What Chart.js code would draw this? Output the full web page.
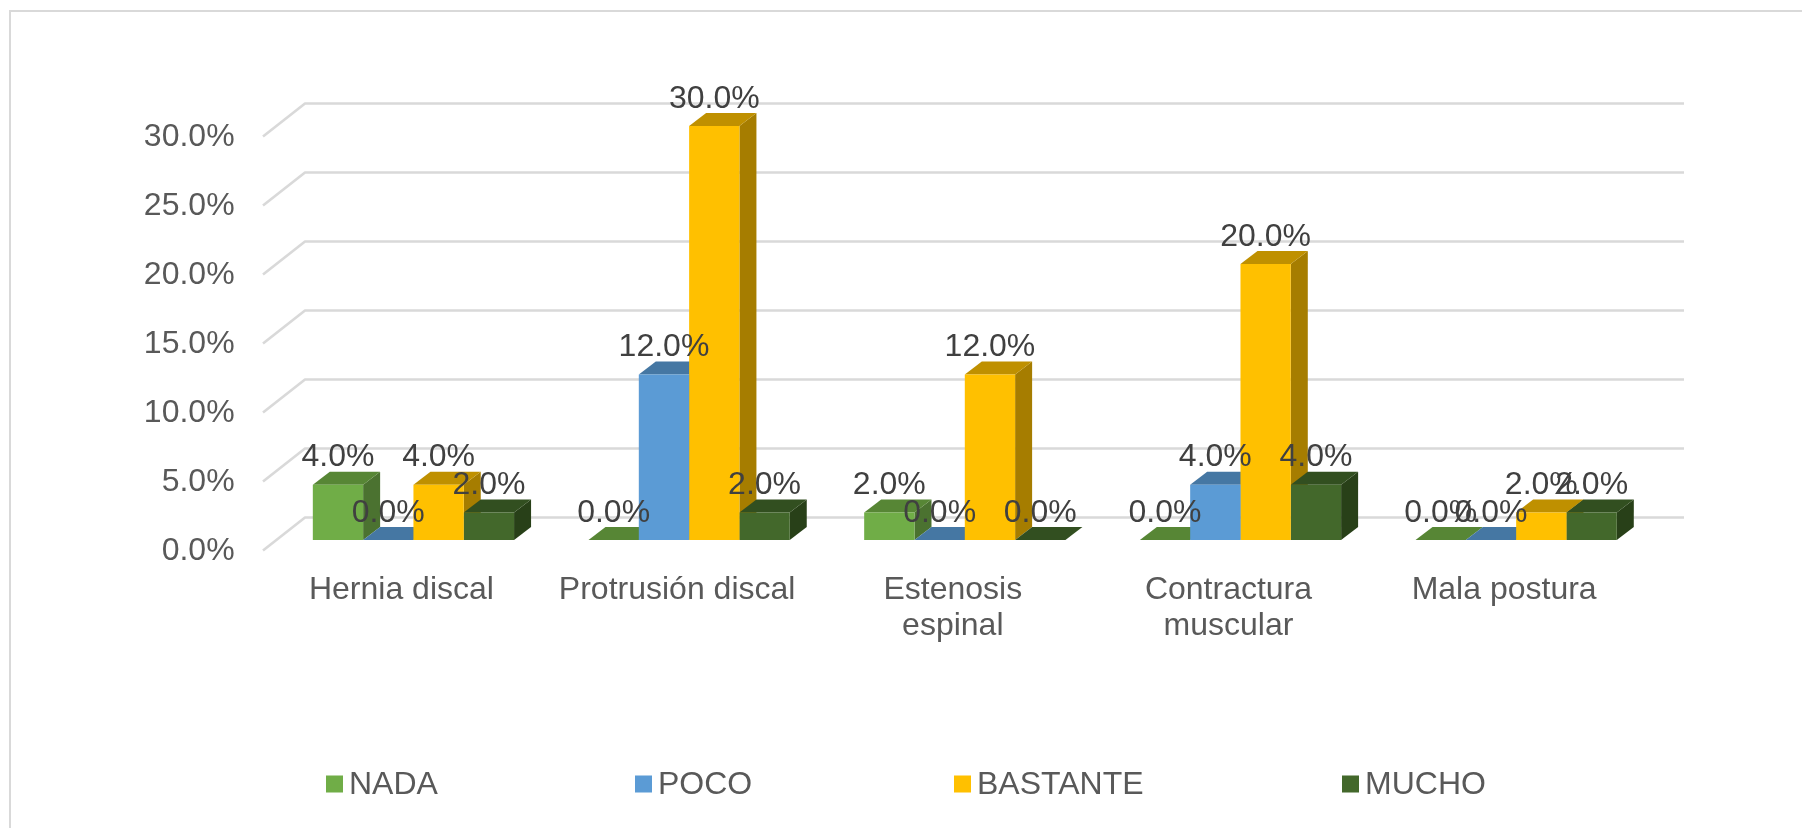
<!DOCTYPE html>
<html><head><meta charset="utf-8">
<style>html,body{margin:0;padding:0;background:#fff;overflow:hidden}canvas{display:block}</style>
<script src="https://cdn.jsdelivr.net/npm/chart.js@4"></script></head>
<body><canvas id="c" width="1802" height="828"></canvas>
<script>
const categories = ["Hernia discal","Protrusión discal",["Estenosis","espinal"],["Contractura","muscular"],"Mala postura"];
const nada = [4,0,2,0,0];
const poco = [0,12,0,4,0];
const bastante = [4,30,12,20,2];
const mucho = [2,2,0,4,2];
const yTicksMax = 30, yStep = 5;

const seriesStyle = [
  {label:"NADA",     data:nada,     front:"#70AD47", top:"#578635", side:"#4B7230", legendX:326},
  {label:"POCO",     data:poco,     front:"#5B9BD5", top:"#4577A3", side:"#3F6E99", legendX:635},
  {label:"BASTANTE", data:bastante, front:"#FFC000", top:"#BF9000", side:"#A67D00", legendX:954},
  {label:"MUCHO",    data:mucho,    front:"#43682B", top:"#324F20", side:"#284018", legendX:1342}
];
const DEPTH_X=17, DEPTH_Y=13;
const WALL_FRONT_X=263, WALL_BACK_X=305, WALL_RIGHT=1684, WALL_DX=42, WALL_DY=33, FLOOR_DROP=10.5;
const FONT='"Liberation Sans", Arial, sans-serif';

const threeD = {
  id:'threeD',
  beforeDraw(chart){
    const ctx=chart.ctx;
    ctx.save();
    ctx.fillStyle='#fff';ctx.fillRect(0,0,chart.width,chart.height);
    ctx.strokeStyle='#D9D9D9';ctx.lineWidth=2;
    ctx.beginPath();ctx.moveTo(10,828);ctx.lineTo(10,11);ctx.lineTo(1802,11);ctx.stroke();
    ctx.restore();
  },
  beforeDatasetsDraw(chart){
    const ctx=chart.ctx, y=chart.scales.y;
    ctx.save();
    ctx.strokeStyle='#D9D9D9';ctx.lineWidth=2.6;ctx.lineJoin='round';
    y.ticks.forEach(t=>{
      const py=y.getPixelForValue(t.value)+FLOOR_DROP;
      ctx.beginPath();
      ctx.moveTo(WALL_FRONT_X,py);
      ctx.lineTo(WALL_BACK_X,py-WALL_DY);
      ctx.lineTo(WALL_RIGHT,py-WALL_DY);
      ctx.stroke();
    });
    chart.data.datasets.forEach((ds,di)=>{
      chart.getDatasetMeta(di).data.forEach(bar=>{
        const l=bar.x-bar.width/2, r=bar.x+bar.width/2, t=bar.y, b=bar.base;
        ctx.fillStyle=ds.sideColor;
        ctx.beginPath();ctx.moveTo(r,t);ctx.lineTo(r+DEPTH_X,t-DEPTH_Y);ctx.lineTo(r+DEPTH_X,b-DEPTH_Y);ctx.lineTo(r,b);ctx.closePath();ctx.fill();
        ctx.fillStyle=ds.topColor;
        ctx.beginPath();ctx.moveTo(l,t);ctx.lineTo(l+DEPTH_X,t-DEPTH_Y);ctx.lineTo(r+DEPTH_X,t-DEPTH_Y);ctx.lineTo(r,t);ctx.closePath();ctx.fill();
      });
    });
    ctx.restore();
  },
  afterDatasetsDraw(chart){
    const ctx=chart.ctx;
    ctx.save();
    ctx.font='32px '+FONT;
    ctx.fillStyle='#404040';ctx.textAlign='center';ctx.textBaseline='alphabetic';
    chart.data.datasets.forEach((ds,di)=>{
      chart.getDatasetMeta(di).data.forEach((bar,i)=>{
        ctx.fillText(ds.data[i].toFixed(1)+'%',bar.x,bar.y-18.5);
      });
    });
    ctx.textAlign='left';ctx.textBaseline='middle';
    chart.data.datasets.forEach(ds=>{
      ctx.fillStyle=ds.backgroundColor;
      ctx.fillRect(ds.legendX,775.5,17,17);
      ctx.fillStyle='#595959';
      ctx.fillText(ds.label,ds.legendX+23,785);
    });
    ctx.restore();
  }
};

new Chart(document.getElementById('c'),{
  type:'bar',
  data:{labels:categories,datasets:seriesStyle.map(s=>({
    label:s.label,data:s.data,backgroundColor:s.front,topColor:s.top,sideColor:s.side,legendX:s.legendX,
    categoryPercentage:0.73,barPercentage:1,borderWidth:0
  }))},
  plugins:[threeD],
  options:{
    responsive:false,animation:false,
    layout:{padding:{left:0,right:148,top:126,bottom:0}},
    plugins:{legend:{display:false},tooltip:{enabled:false},title:{display:false}},
    scales:{
      x:{
        grid:{display:false,drawTicks:false,tickLength:0},border:{display:false},
        afterFit(s){s.height=288;},
        ticks:{color:'#595959',font:{family:FONT,size:32,lineHeight:1.13},
          padding:32,labelOffset:-12,maxRotation:0,minRotation:0,autoSkip:false}
      },
      y:{
        min:0,max:yTicksMax,
        grid:{display:false,drawTicks:false,tickLength:0},border:{display:false},
        afterFit(s){s.width=275.6;},
        ticks:{stepSize:yStep,color:'#595959',font:{family:FONT,size:32},
          padding:41,labelOffset:11,callback:v=>v.toFixed(1)+'%'}
      }
    }
  }
});
</script></body></html>
